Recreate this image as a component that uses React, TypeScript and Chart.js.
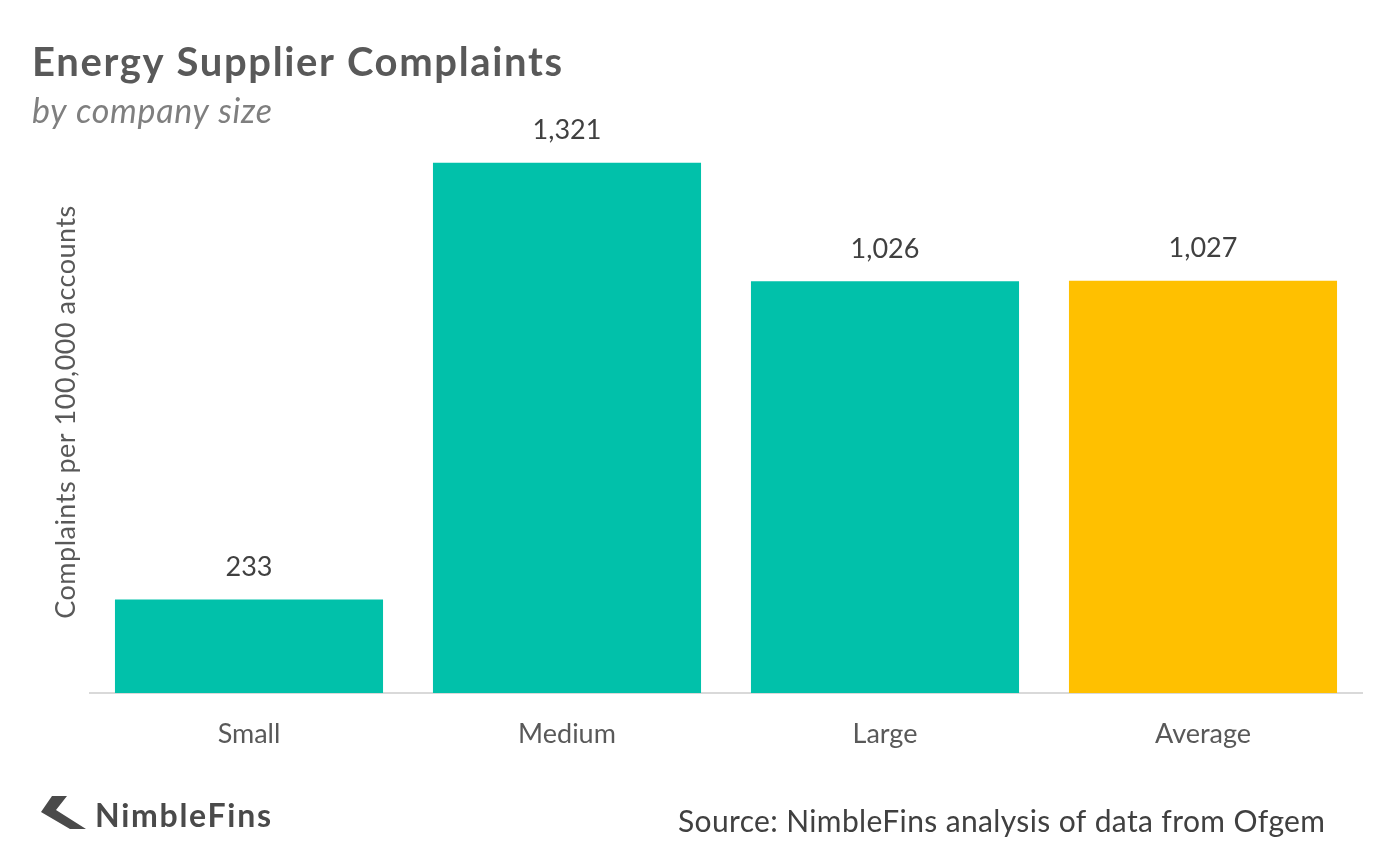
import React, { useEffect, useRef } from "react";
import { Chart, registerables } from "chart.js";

Chart.register(...registerables);

const categories = ["Small", "Medium", "Large", "Average"];
const complaints = [233, 1321, 1026, 1027];
const barColors = ["#01C1AA", "#01C1AA", "#01C1AA", "#FFC000"];
const titleText = "Energy Supplier Complaints";
const subtitleText = "by company size";
const yAxisTitle = "Complaints per 100,000 accounts";
const sourceText = "Source: NimbleFins analysis of data from Ofgem";
const brandText = "NimbleFins";

const FONT = "Lato, 'Open Sans', sans-serif";

function fmt(v: number): string {
  return v.toString().replace(/\B(?=(\d{3})+(?!\d))/g, ",");
}

function drawFitted(ctx: any, text: string, x: number, y: number, font: string, target: number) {
  ctx.font = font;
  ctx.letterSpacing = "0px";
  const w = ctx.measureText(text).width;
  const sp = (target - w) / Math.max(1, text.length - 1);
  ctx.letterSpacing = `${sp}px`;
  ctx.fillText(text, x, y);
  ctx.letterSpacing = "0px";
}

const decorPlugin = {
  id: "decor",
  afterDatasetsDraw(chart: any) {
    const ctx = chart.ctx;
    const meta = chart.getDatasetMeta(0);
    ctx.save();
    ctx.fillStyle = "#404040";
    ctx.textAlign = "center";
    ctx.textBaseline = "middle";
    meta.data.forEach((bar: any, i: number) => {
      ctx.font = `27px ${FONT}`;
      ctx.fillText(fmt(complaints[i]), bar.x, bar.y - 32);
    });
    ctx.restore();
  },
  afterDraw(chart: any) {
    const ctx = chart.ctx;
    const area = chart.chartArea;
    ctx.save();
    // Title
    ctx.textAlign = "left";
    ctx.textBaseline = "alphabetic";
    ctx.fillStyle = "#595959";
    drawFitted(ctx, titleText, 32, 76, `bold 40px ${FONT}`, 530);
    ctx.fillStyle = "#7F7F7F";
    drawFitted(ctx, subtitleText, 32, 123, `italic 34px ${FONT}`, 240);
    // Y axis title
    ctx.save();
    ctx.translate(66, (area.top + area.bottom) / 2);
    ctx.rotate(-Math.PI / 2);
    ctx.textAlign = "center";
    ctx.textBaseline = "middle";
    ctx.fillStyle = "#595959";
    drawFitted(ctx, yAxisTitle, 0, 0, `27px ${FONT}`, 413);
    ctx.restore();
    // Source
    ctx.textAlign = "left";
    ctx.textBaseline = "middle";
    ctx.fillStyle = "#404040";
    drawFitted(ctx, sourceText, 678, 822, `30px ${FONT}`, 647);
    // Logo
    ctx.fillStyle = "#4a4a4a";
    ctx.beginPath();
    ctx.moveTo(52, 796);
    ctx.lineTo(67, 796);
    ctx.lineTo(56, 810);
    ctx.lineTo(86, 829);
    ctx.lineTo(70, 829);
    ctx.lineTo(41, 812);
    ctx.closePath();
    ctx.fill();
    ctx.textAlign = "left";
    drawFitted(ctx, brandText, 95, 817, `bold 32px ${FONT}`, 176);
    ctx.restore();
  },
};

export default function App() {
  const canvasRef = useRef<HTMLCanvasElement | null>(null);
  useEffect(() => {
    document.body.style.margin = "0";
    const canvas = canvasRef.current;
    if (!canvas) return;
    const chart = new Chart(canvas, {
      type: "bar",
      data: {
        labels: categories,
        datasets: [
          {
            data: complaints,
            backgroundColor: barColors,
            borderWidth: 0,
            categoryPercentage: 1,
            barPercentage: 0.843,
          },
        ],
      },
      options: {
        animation: false,
        responsive: false,
        maintainAspectRatio: false,
        layout: { padding: { left: 90, right: 38, top: 131, bottom: 0 } },
        plugins: {
          legend: { display: false },
          tooltip: { enabled: false },
          title: { display: false },
        },
        scales: {
          x: {
            grid: { display: false, drawTicks: false },
            border: { display: true, color: "#D9D9D9", width: 2 },
            ticks: {
              color: "#595959",
              font: { family: FONT, size: 27 },
              padding: 25,
            },
            afterFit(scale: any) {
              scale.height = 159;
            },
          },
          y: {
            display: false,
            min: 0,
            max: 1400,
          },
        },
      },
      plugins: [decorPlugin],
    });
    return () => chart.destroy();
  }, []);
  return (
    <div style={{ position: "absolute", left: 0, top: 0, width: 1400, height: 852, background: "#fff" }}>
      <canvas ref={canvasRef} width={1400} height={852} style={{ width: 1400, height: 852 }} />
    </div>
  );
}
